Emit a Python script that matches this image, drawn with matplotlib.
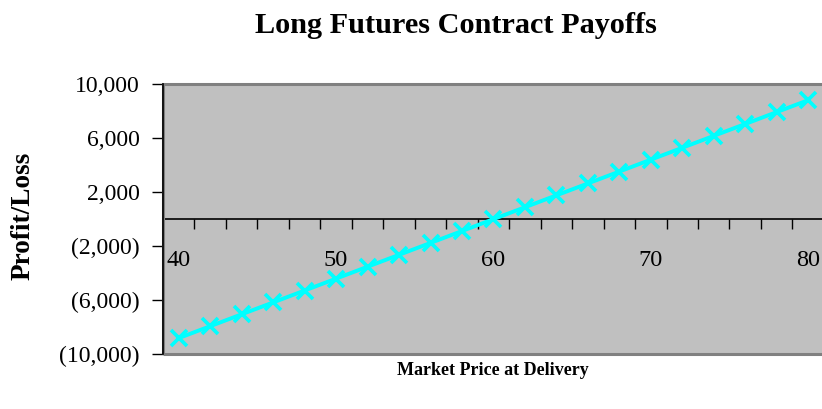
import matplotlib
matplotlib.use("Agg")
import matplotlib.pyplot as plt
from matplotlib.patches import Rectangle
from matplotlib.ticker import FuncFormatter

# market price at delivery and the profit/loss of the long position
prices = [40, 42, 44, 46, 48, 50, 52, 54, 56, 58, 60,
          62, 64, 66, 68, 70, 72, 74, 76, 78, 80]
payoffs = [-8800, -7920, -7040, -6160, -5280, -4400, -3520, -2640, -1760, -880, 0,
           880, 1760, 2640, 3520, 4400, 5280, 6160, 7040, 7920, 8800]
y_ticks = [-10000, -6000, -2000, 2000, 6000, 10000]
x_labels = [40, 50, 60, 70, 80]

plt.rcParams["font.family"] = ["Liberation Serif", "DejaVu Serif"]

fig = plt.figure(figsize=(8.22, 4.09), dpi=100)
ax = fig.add_axes([0.1983, 0.1337, 0.804, 0.661])
ax.set_facecolor("#c0c0c0")

ax.plot(prices, payoffs, color="#00ffff", lw=2.8, marker="x",
        markersize=11, markeredgewidth=2.6, clip_on=False, zorder=5)

ax.set_xlim(39, 81)
ax.set_ylim(-10000, 10000)

# frame of the plot area
for s in ["top", "right"]:
    ax.spines[s].set_visible(False)
ax.add_patch(Rectangle((0, 0), 1, 1, transform=ax.transAxes, fill=False,
                       edgecolor="#808080", lw=2.2, clip_on=False, zorder=4))
ax.spines["left"].set_color("black")
ax.spines["left"].set_linewidth(1.2)
ax.spines["left"].set_zorder(6)

# category axis sits on zero
ax.spines["bottom"].set_position(("data", 0))
ax.spines["bottom"].set_color("black")
ax.spines["bottom"].set_linewidth(1.2)
ax.set_xticks(x_labels)
ax.set_xticks([p + 1 for p in [38] + prices], minor=True)
ax.tick_params(axis="x", which="major", length=0, pad=22, labelsize=17.5)
ax.tick_params(axis="x", which="minor", direction="out", length=7, width=1)

ax.set_yticks(y_ticks)
ax.yaxis.set_major_formatter(FuncFormatter(
    lambda v, p: f"{v:,.0f}" if v >= 0 else f"({-v:,.0f})"))
ax.tick_params(axis="y", direction="out", length=8, width=1, labelsize=17, pad=9)

fig.text(0.555, 0.937, "Long Futures Contract Payoffs", ha="center", va="center",
         fontsize=21.8, fontweight="bold")
fig.text(0.028, 0.472, "Profit/Loss", ha="center", va="center", rotation=90,
         fontsize=19.6, fontweight="bold")
fig.text(0.6, 0.095, "Market Price at Delivery", ha="center", va="center",
         fontsize=13, fontweight="bold")

fig.savefig("out.png", dpi=100)
